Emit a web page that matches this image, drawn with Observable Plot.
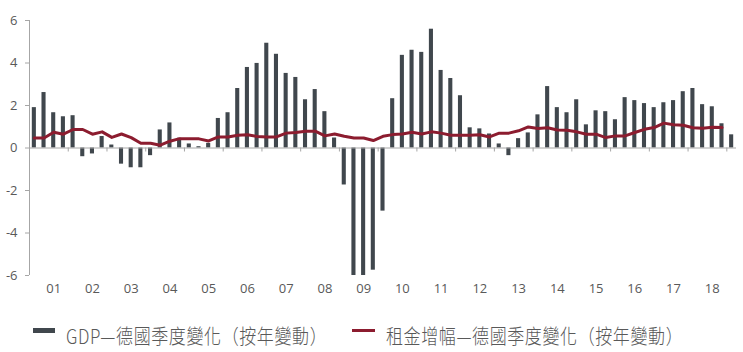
<!DOCTYPE html>
<html>
<head>
<meta charset="utf-8">
<script src="https://cdn.jsdelivr.net/npm/d3@7"></script>
<script src="https://cdn.jsdelivr.net/npm/@observablehq/plot@0.6"></script>
<style>
  html, body { margin: 0; padding: 0; background: #fff; }
  #wrap { position: relative; width: 743px; height: 352px; font-family: "Open Sans", "Noto Sans CJK TC", sans-serif; }
  #legend { position: absolute; left: 0; top: 300px; width: 743px; height: 52px; font-family: "Noto Sans CJK TC", "Open Sans", sans-serif; font-size: 17px; font-weight: 300; color: #595959; }
  .sw { position: absolute; }
  .lt { position: absolute; top: 25px; line-height: 22px; white-space: nowrap; letter-spacing: 0.6px; transform: scaleY(1.2); transform-origin: 0 50%; }
</style>
</head>
<body>
<div id="wrap">
  <div id="chart"></div>
  <div id="legend">
    <span class="sw" style="left:33px;top:28px;width:22px;height:5px;background:#40474d"></span>
    <span class="lt" style="left:66px">GDP—德國季度變化（按年變動）</span>
    <span class="sw" style="left:352px;top:29px;width:23px;height:3px;background:#8c1c2f"></span>
    <span class="lt" style="left:386px">租金增幅—德國季度變化（按年變動）</span>
  </div>
</div>
<script>
// German quarterly GDP change (y/y), 2001Q1 - 2019Q1
const gdp = [
  1.90, 2.61, 1.66, 1.47,   1.52, -0.41, -0.28, 0.54,
  0.14, -0.76, -0.93, -0.93, -0.36, 0.85, 1.18, 0.46,
  0.19, 0.06, 0.22, 1.39,   1.66, 2.80, 3.79, 3.98,
  4.93, 4.41, 3.51, 3.32,   2.27, 2.75, 1.71, 0.47,
  -1.74, -6.0, -6.0, -5.75, -2.97, 2.32, 4.36, 4.60,
  4.50, 5.59, 3.65, 3.27,   2.46, 0.95, 0.90, 0.66,
  0.19, -0.36, 0.44, 0.71,  1.56, 2.89, 1.90, 1.66,
  2.27, 1.09, 1.75, 1.71,   1.33, 2.37, 2.23, 2.09,
  1.90, 2.13, 2.23, 2.65,   2.80, 2.04, 1.94, 1.14,
  0.62
];
// Rent growth, quarterly (y/y), 2001Q1 - 2018Q4
const rent = [
  0.47, 0.47, 0.74, 0.65,  0.87, 0.87, 0.65, 0.76,
  0.50, 0.66, 0.49, 0.22,  0.22, 0.13, 0.32, 0.44,
  0.44, 0.43, 0.33, 0.52,  0.52, 0.60, 0.62, 0.54,
  0.52, 0.52, 0.70, 0.73,  0.79, 0.79, 0.57, 0.66,
  0.55, 0.47, 0.47, 0.35,  0.55, 0.63, 0.66, 0.74,
  0.66, 0.76, 0.70, 0.60,  0.60, 0.60, 0.62, 0.52,
  0.70, 0.70, 0.81, 0.99,  0.92, 0.95, 0.85, 0.84,
  0.76, 0.65, 0.65, 0.49,  0.57, 0.57, 0.73, 0.88,
  0.96, 1.17, 1.09, 1.07,  0.95, 0.93, 0.98, 0.96
];
const yearLabels = ["01","02","03","04","05","06","07","08","09","10","11","12","13","14","15","16","17","18"];
const yTicks = [-6, -4, -2, 0, 2, 4, 6];

const nQ = gdp.length;
const gdpData = gdp.map((v, i) => ({i, v}));
const rentData = rent.map((v, i) => ({i, v}));
const boundaries = yearLabels.map((_, k) => (k + 1) * 4);
const labelPos = yearLabels.map((_, k) => k * 4 + 2.5);

const axisColor = "#a6a6a6";
const textColor = "#595959";

const chart = Plot.plot({
  width: 743,
  height: 300,
  marginLeft: 29,
  marginRight: 7,
  marginTop: 20,
  marginBottom: 25,
  style: { fontFamily: "'Open Sans', sans-serif", fontSize: "13px", color: textColor, background: "white" },
  x: { type: "linear", domain: [0, nQ], axis: null },
  y: { domain: [-6, 6], axis: null },
  marks: [
    Plot.rectY(gdpData, { x1: d => d.i, x2: d => d.i + 1, y1: 0, y2: d => d.v, fill: "#40474d", insetLeft: 2.8, insetRight: 2.8, clip: true }),
    Plot.ruleY([0], { stroke: axisColor, strokeWidth: 1 }),
    Plot.ruleX(boundaries, { x: d => d, y1: 0, y2: 0, insetBottom: -4, stroke: axisColor }),
    Plot.ruleX([0], { y1: -6, y2: 6, stroke: axisColor }),
    Plot.lineY(rentData, { x: d => d.i + 0.5, y: d => d.v, stroke: "#8c1c2f", strokeWidth: 3, curve: "linear", strokeLinejoin: "round" }),
    Plot.axisY({ ticks: yTicks, tickSize: 4, tickPadding: 8, stroke: axisColor, tickFormat: d => String(d).replace("−", "-"), fill: textColor, fontSize: 13 }),
    Plot.axisX({ ticks: labelPos, tickSize: 0, tickPadding: 8, tickFormat: (d) => yearLabels[Math.round((d - 2.5) / 4)], fill: textColor, fontSize: 13 })
  ]
});
document.getElementById("chart").appendChild(chart);
</script>
</body>
</html>
